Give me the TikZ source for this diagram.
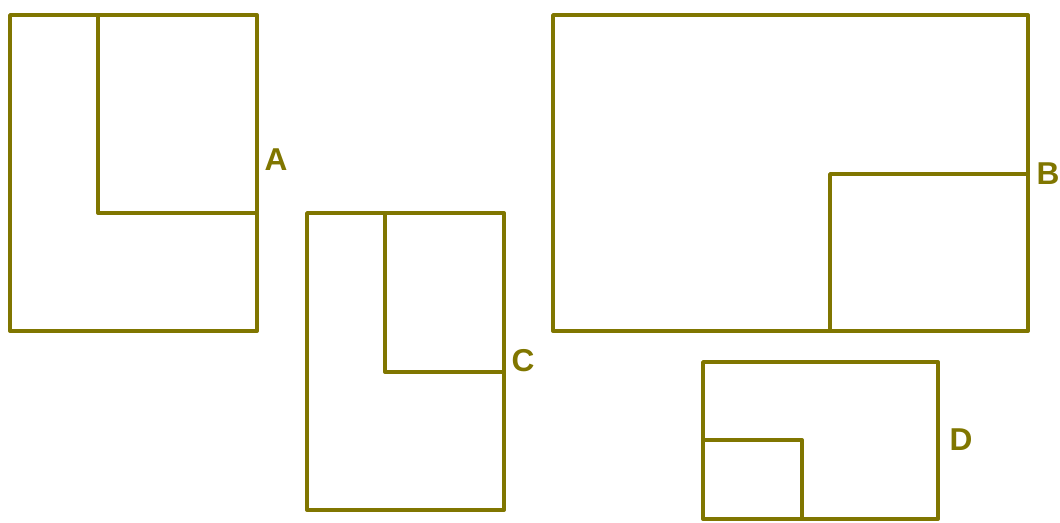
\documentclass[tikz,border=0pt]{standalone}
\usepackage{fontspec}
\setmainfont{Liberation Sans}
\definecolor{olive}{RGB}{128,118,0}
\begin{document}
\begin{tikzpicture}[x=0.02cm,y=-0.02cm,
  ln/.style={draw=olive,line width=2.2pt,line cap=round,line join=round},
  lbl/.style={text=olive,font=\bfseries\fontsize{18}{20}\selectfont,inner sep=0pt}]
\useasboundingbox (0,0) rectangle (1060,523);
% A
\draw[ln] (10,15) rectangle (257,331);
\draw[ln] (98,15) -- (98,213) -- (257,213);
\node[lbl] (la) at (276,160) {A};
% C
\draw[ln] (307,213) rectangle (504,510);
\draw[ln] (385,213) -- (385,372) -- (504,372);
\node[lbl] (lc) at (523,361) {C};
% B
\draw[ln] (553,15) rectangle (1028,331);
\draw[ln] (830,331) -- (830,174) -- (1028,174);
\node[lbl] (lb) at (1048,174) {B};
% D
\draw[ln] (703,362) rectangle (938,519);
\draw[ln] (703,440) -- (802,440) -- (802,519);
\node[lbl] (ld) at (961,440) {D};
\end{tikzpicture}
\end{document}
